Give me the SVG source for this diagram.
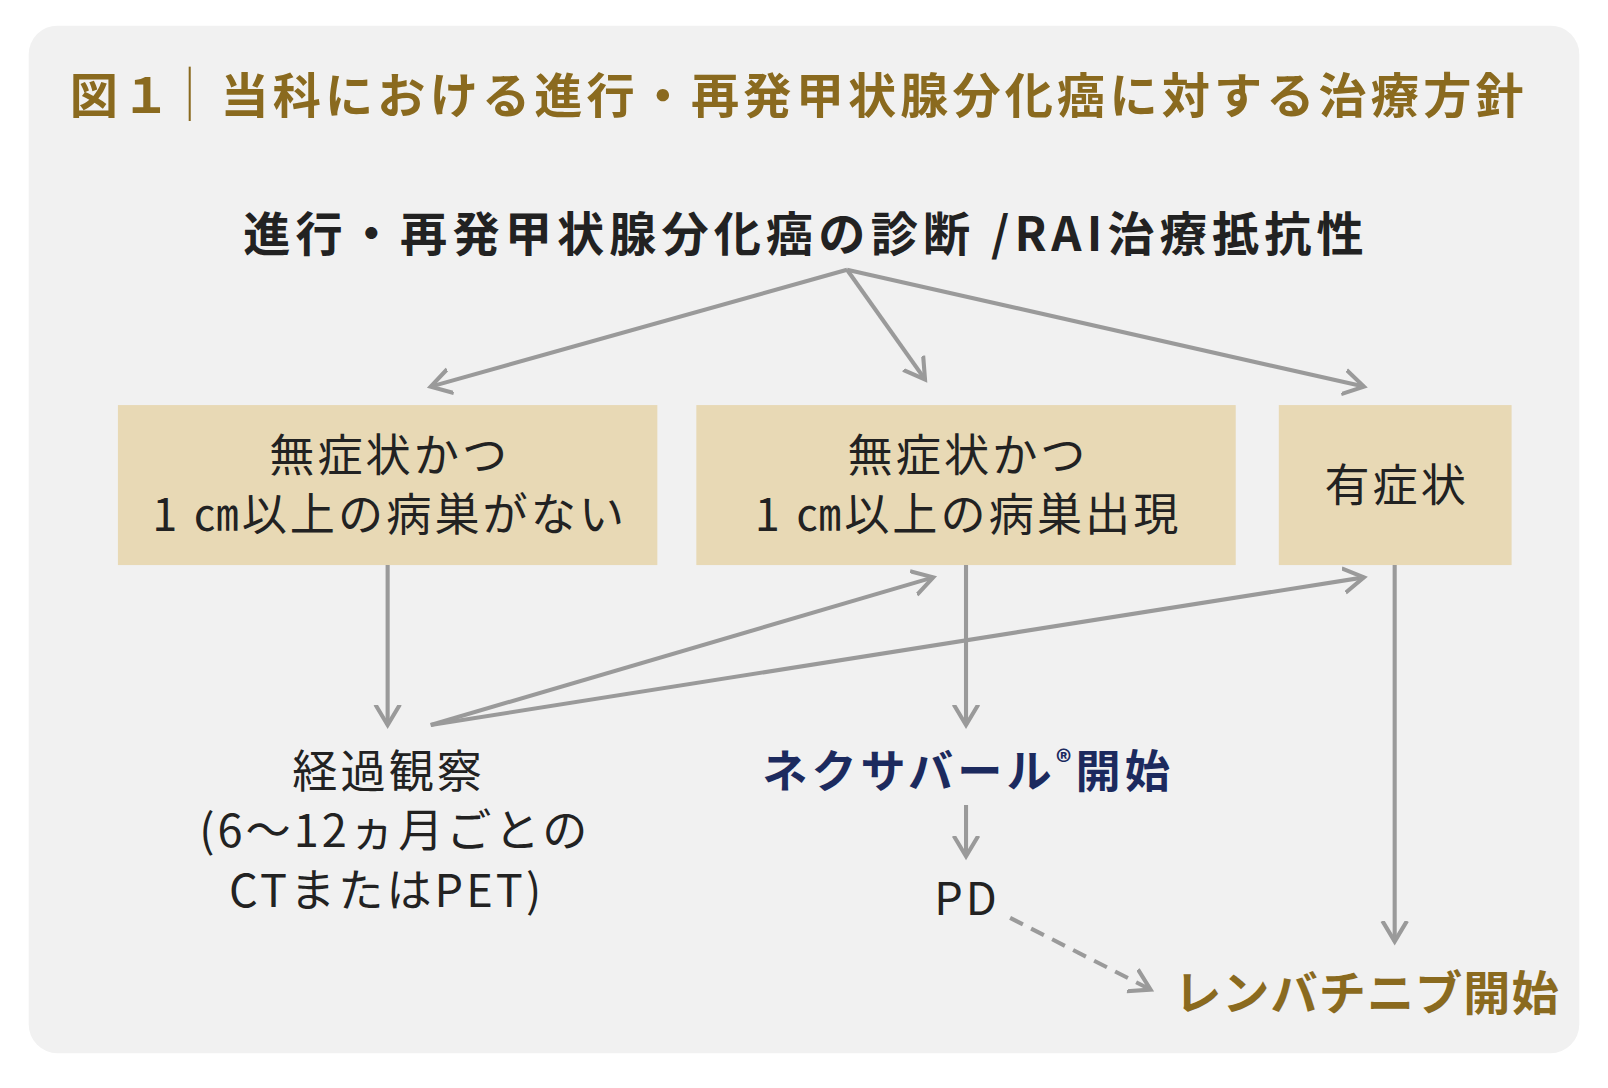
<svg xmlns="http://www.w3.org/2000/svg" width="1608" height="1088" viewBox="0 0 1608 1088">
<style>
text{font-family:"Noto Sans CJK JP","Noto Sans",sans-serif}
.box{fill:#e8d9b5}
.bt{font-size:44px;fill:#222;text-anchor:middle;letter-spacing:3px}
.ln{stroke:#9a9a9a;stroke-width:4;fill:none}
.gold{fill:#8a6a1f;font-weight:bold}
</style>
<defs>
<marker id="a" markerUnits="userSpaceOnUse" markerWidth="40" markerHeight="40" viewBox="-20 -20 40 40" refX="0" refY="0" orient="auto">
<path d="M-20,-12 L0,0 L-20,12" stroke="#9a9a9a" stroke-width="4" fill="none"/>
</marker>
</defs>
<rect width="1608" height="1088" fill="#fff"/>
<g transform="scale(1.0255)">
<rect x="28" y="25" width="1512" height="1002" rx="28" fill="#f1f1f1"/>
<g id="title">
<text x="68" y="110" font-size="47" class="gold" letter-spacing="4">図１</text>
<line x1="185" y1="65" x2="185" y2="118" stroke="#8a6a1f" stroke-width="2"/>
<text x="215" y="110" font-size="47" class="gold" letter-spacing="4">当科における進行・再発甲状腺分化癌に対する治療方針</text>
</g>
<g id="top"><text x="786" y="245" font-size="46" font-weight="bold" fill="#222" text-anchor="middle" letter-spacing="5">進行・再発甲状腺分化癌の診断 /RAI治療抵抗性</text></g>
<g id="box1"><rect class="box" x="115" y="395" width="526" height="156"/>
<text class="bt" x="380" y="460">無症状かつ</text><text class="bt" x="380" y="518">1 ㎝以上の病巣がない</text></g>
<g id="box2"><rect class="box" x="679" y="395" width="526" height="156"/>
<text class="bt" x="944" y="460">無症状かつ</text><text class="bt" x="944" y="518">1 ㎝以上の病巣出現</text></g>
<g id="box3"><rect class="box" x="1247" y="395" width="227" height="156"/>
<text class="bt" x="1362" y="490">有症状</text></g>
<g id="obs"><text class="bt" x="379" y="768">経過観察</text><text class="bt" x="385" y="826">(6〜12ヵ月ごとの</text><text class="bt" x="377" y="884">CTまたはPET)</text></g>
<g id="nex"><text x="944" y="768" font-size="44" font-weight="bold" fill="#1c2a5e" text-anchor="middle" letter-spacing="4">ネクサバール<tspan font-size="30" dy="-14">®</tspan><tspan dy="14">開始</tspan></text></g>
<g id="pd"><text class="bt" x="943" y="892">PD</text></g>
<g id="len"><text x="1145" y="985" font-size="46" class="gold" letter-spacing="1">レンバチニブ開始</text></g>
<g id="connectors">
<path class="ln" d="M826,263 L420,377" marker-end="url(#a)"/>
<path class="ln" d="M826,263 L902,370" marker-end="url(#a)"/>
<path class="ln" d="M826,263 L1330,377" marker-end="url(#a)"/>
<path class="ln" d="M378,551 L378,707" marker-end="url(#a)"/>
<path class="ln" d="M420,707 L910,563" marker-end="url(#a)"/>
<path class="ln" d="M420,707 L1330,563" marker-end="url(#a)"/>
<path class="ln" d="M942,551 L942,707" marker-end="url(#a)"/>
<path class="ln" d="M1360,551 L1360,918" marker-end="url(#a)"/>
<path class="ln" d="M942,785 L942,835" marker-end="url(#a)"/>
<path class="ln" d="M985,895 L1122,965" stroke-dasharray="14,9" marker-end="url(#a)"/>
</g>
</g>
</svg>
